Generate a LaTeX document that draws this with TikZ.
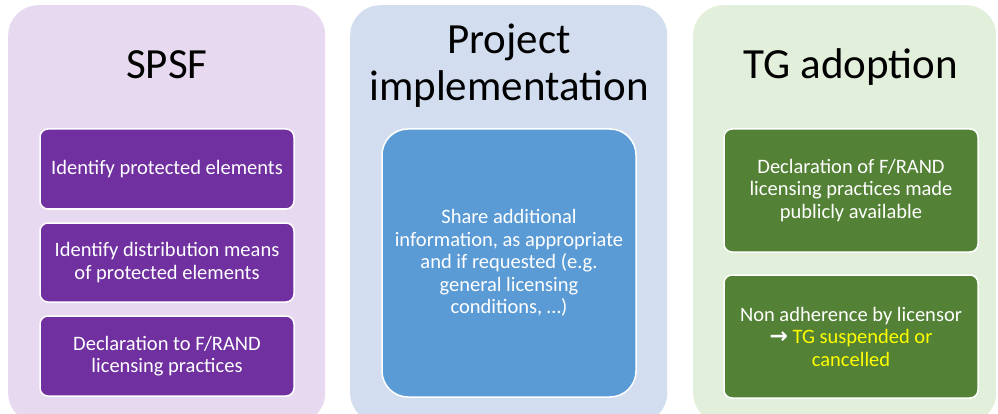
\documentclass[tikz,border=0pt]{standalone}
\usepackage{fontspec}
\setmainfont{Carlito}
\newfontfamily\arrowfont{DejaVu Sans}
\definecolor{spsfback}{HTML}{E7DAF0}
\definecolor{implback}{HTML}{D2DEEF}
\definecolor{adoptback}{HTML}{E2EFDA}
\definecolor{spsfbox}{HTML}{7030A0}
\definecolor{implbox}{HTML}{5B9BD5}
\definecolor{adoptbox}{HTML}{538135}
\definecolor{warntext}{HTML}{FFFF00}
\begin{document}
\begin{tikzpicture}[x=1pt,y=-1pt]
        \tikzstyle{panel}=[rectangle, rounded corners=30pt, anchor=north west, minimum width=317pt, minimum height=418pt, inner sep=0pt];
        \tikzstyle{title}=[font=\fontsize{43}{47}\selectfont, align=center, text=black];
        \tikzstyle{item}=[rectangle, rounded corners=8pt, draw=white, line width=1.5pt, text=white, minimum width=254pt, align=center, font=\fontsize{20.5}{22.5}\selectfont];
        \useasboundingbox (0,0) rectangle (998,414);
        \node[panel, fill=spsfback] (spsf) at (8,5) {};
        \node[panel, fill=implback] (impl) at (350,5) {};
        \node[panel, fill=adoptback, minimum width=303pt] (adopt) at (693,5) {};
        \node[title] (spsftitle) at (167,65) {SPSF};
        \node[title] (impltitle) at (509,66) {Project\\implementation};
        \node[title] (adopttitle) at (851,67) {TG adoption};
        \node[item, fill=spsfbox, minimum height=80pt] (protect) at (167,169) {Identify protected elements};
        \node[item, fill=spsfbox, minimum height=79pt] (means) at (167,262.5) {Identify distribution means\\of protected elements};
        \node[item, fill=spsfbox, minimum height=80pt] (declare) at (167,356) {Declaration to F/RAND\\licensing practices};
        \node[item, fill=implbox, rounded corners=26pt, minimum height=268pt] (share) at (509,263) {Share additional\\information, as appropriate\\and if requested (e.g.\\general licensing\\conditions, \dots)};
        \node[item, fill=adoptbox, minimum height=123pt] (publish) at (851,190.5) {Declaration of F/RAND\\licensing practices made\\publicly available};
        \node[item, fill=adoptbox, minimum height=123pt] (breach) at (851,336.5) {Non adherence by licensor\\{\arrowfont\bfseries\fontsize{22}{22.5}\selectfont →} \textcolor{warntext}{TG suspended or}\\\textcolor{warntext}{cancelled}};
    \end{tikzpicture}
\end{document}
